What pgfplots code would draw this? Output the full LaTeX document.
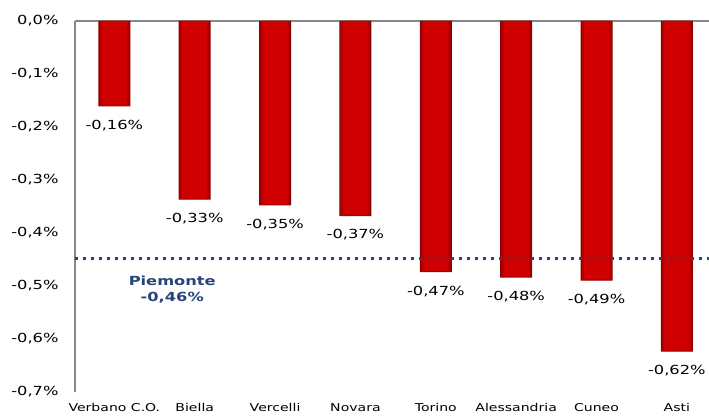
\documentclass[border=0pt]{standalone}
\usepackage{pgfplots}
\pgfplotsset{compat=1.18}
\usepackage{fontspec}
\setmainfont{DejaVu Sans}
\newfontfamily\lab[FakeStretch=1.3]{DejaVu Sans}
\newcommand\tl[1]{\mbox{\lab\fontsize{12.5}{15}\selectfont #1}}
\definecolor{barred}{HTML}{D00000}
\definecolor{barmid}{HTML}{B50000}
\definecolor{bardark}{HTML}{8E0000}
\definecolor{axgray}{HTML}{878787}
\definecolor{piem}{HTML}{264478}
\begin{document}
\begin{tikzpicture}
\begin{axis}[name=ax, scale only axis, width=634pt, height=371pt,
  xmin=-0.49, xmax=7.4, ymin=-0.7, ymax=0, clip=false,
  axis lines*=left,
  x axis line style={draw=none},
  y axis line style={draw=axgray, line width=1.3pt},
  xtick={0,1,2,3,4,5,6,7},
  xticklabels={Verbano C.O., Biella, Vercelli, Novara, Torino, Alessandria, Cuneo, Asti},
  ytick={-0.7,-0.6,-0.5,-0.4,-0.3,-0.2,-0.1,0},
  yticklabels={\tl{-0,7\%},\tl{-0,6\%},\tl{-0,5\%},\tl{-0,4\%},\tl{-0,3\%},\tl{-0,2\%},\tl{-0,1\%},\tl{0,0\%}},
  major tick length=0pt,
  yticklabel style={xshift=-13pt},
  xticklabel style={font=\lab\fontsize{10.8}{13}\selectfont, yshift=-8pt},
]
\addplot[axgray, line width=1.3pt, forget plot] coordinates {(-0.49,0) (7.4,0)};
\addplot[ybar, bar width=32pt, bar shift=0pt, fill=bardark, draw=none, forget plot] coordinates {
 (0,-0.161) (1,-0.337) (2,-0.348) (3,-0.368) (4,-0.474) (5,-0.484) (6,-0.490) (7,-0.624)};
\addplot[ybar, bar width=29pt, bar shift=0pt, fill=barmid, draw=none, forget plot] coordinates {
 (0,-0.160) (1,-0.336) (2,-0.347) (3,-0.367) (4,-0.473) (5,-0.483) (6,-0.489) (7,-0.623)};
\addplot[ybar, bar width=25pt, bar shift=0pt, fill=barred, draw=none, forget plot] coordinates {
 (0,-0.158) (1,-0.334) (2,-0.345) (3,-0.365) (4,-0.471) (5,-0.481) (6,-0.487) (7,-0.621)};
\addplot[draw=none, mark=none, nodes near coords, point meta=explicit symbolic,
  every node near coord/.append style={font=\lab\fontsize{12.5}{14}\selectfont, text=black, anchor=north, yshift=-10pt}] coordinates {
 (0,-0.161) [-0,16\%] (1,-0.337) [-0,33\%] (2,-0.348) [-0,35\%] (3,-0.368) [-0,37\%]
 (4,-0.474) [-0,47\%] (5,-0.484) [-0,48\%] (6,-0.490) [-0,49\%] (7,-0.624) [-0,62\%]};
\addplot[piem, line width=3pt, dash pattern=on 3pt off 5pt] coordinates {(-0.49,-0.449) (7.4,-0.449)};
\node[font=\lab\bfseries\fontsize{12.5}{15.5}\selectfont, text=piem, align=center] at (axis cs:0.72,-0.507) {Piemonte\\-0,46\%};
\end{axis}
\pgfresetboundingbox
\path[use as bounding box] ([xshift=-75pt,yshift=-28pt]ax.south west) rectangle ([yshift=21pt]ax.north east);
\end{tikzpicture}
\end{document}
